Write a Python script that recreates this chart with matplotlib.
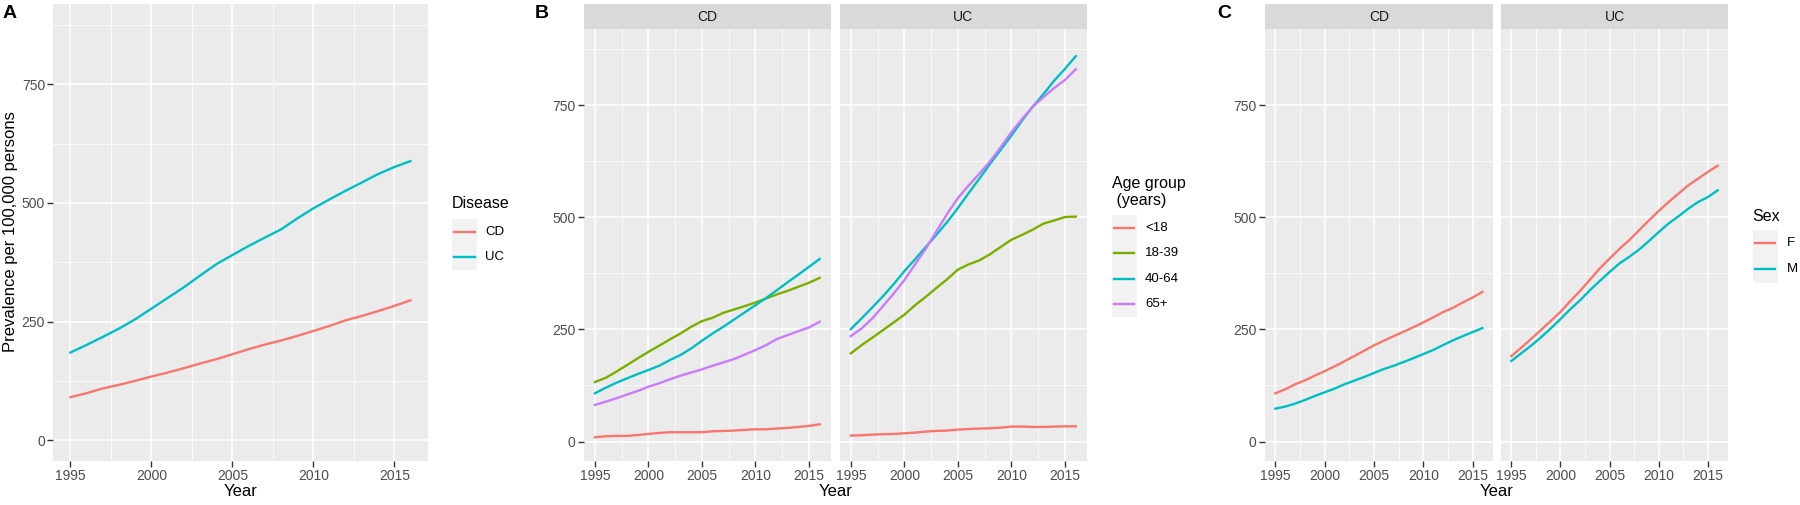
import matplotlib
matplotlib.use("Agg")
import matplotlib.pyplot as plt
from matplotlib.lines import Line2D
from matplotlib.patches import Rectangle

plt.rcParams['font.family'] = ['Liberation Sans', 'DejaVu Sans']

years = list(range(1995, 2017))

# Panel A: prevalence by disease
a_cd = [90.5, 99, 109, 116.5, 125, 134, 142.4, 151.6, 161.4, 170.5, 181, 191.6,
        201.4, 209.8, 219.6, 230, 240.7, 252.6, 261.7, 272, 282.8, 294.7]
a_uc = [184.6, 200.7, 217.5, 235, 254.7, 277, 299.6, 322, 346.6, 370.5, 390, 409,
        426.6, 444, 467, 488.4, 507.3, 525.6, 543, 560.7, 575.4, 588]

# Panel B: prevalence by age group
age_groups = ['<18', '18-39', '40-64', '65+']
b_cd_lt18 = [9.6, 11.9, 12.6, 12.6, 14.8, 17, 19.3, 20.8, 20.8, 20.8, 20.8, 23,
             23.7, 24.5, 26, 27.4, 27.4, 29, 30.4, 32.6, 34.9, 38.6]
b_cd_18_39 = [132.8, 142, 155.8, 170.6, 185.5, 200, 213.6, 227.7, 241, 256, 268.5, 276,
              287, 294.5, 302, 310, 319, 328, 336, 345, 354, 365]
b_cd_40_64 = [107.6, 120, 131, 141, 150.6, 159.5, 169, 181.7, 193, 207.7, 224.8, 241,
              256, 272, 288, 304, 320, 337.5, 355, 372, 389.5, 407]
b_cd_65p = [81.6, 89, 96.4, 105, 112.8, 122.4, 129.8, 138.7, 147, 154, 161, 169,
            176.5, 184, 194, 204, 215, 228.5, 237.4, 246, 254.4, 267]
b_uc_lt18 = [13.4, 14, 15.6, 16.3, 17, 18.5, 20, 22.3, 23.7, 24.5, 26.7, 28,
             29, 29.7, 31, 33.4, 33.4, 32.6, 32.6, 33.4, 34, 34]
b_uc_18_39 = [196.6, 215, 231.4, 248.5, 265.6, 283, 304, 322.7, 342.7, 362, 383.5, 395,
              404, 417.6, 434, 450, 461, 472.5, 486, 493, 500.7, 501.5]
b_uc_40_64 = [250.7, 274.5, 299, 324, 351, 380, 406.5, 434, 461, 489.6, 520.7, 554,
              586, 619, 650.6, 682.5, 716, 747, 775, 805, 831, 859]
b_uc_65p = [235, 252, 274.5, 302, 330, 360, 395, 430, 469, 508, 543, 571,
            597, 624.6, 656.5, 690, 719.5, 747, 768, 788.5, 806, 830]

# Panel C: prevalence by sex
sexes = ['F', 'M']
c_cd_f = [107.6, 116.5, 127.6, 136.5, 147, 157, 167.6, 178.8, 190.6, 202.5, 214.4, 224.8,
          235, 244.8, 255, 265.6, 276.7, 288.6, 298, 310, 321, 333.8]
c_cd_m = [73.4, 78, 84.6, 92.7, 101.6, 109.8, 118, 127.6, 135.7, 144, 152.8, 161.7,
          169, 177.3, 186, 195, 204, 215, 225.5, 235, 244, 253]
c_uc_f = [190.6, 209, 228.5, 248.5, 268.5, 289, 313, 336, 361, 386, 408, 429.5,
          449, 471, 493, 514, 534, 552.6, 571, 586, 601, 615]
c_uc_m = [179.5, 196.6, 213.6, 232, 252, 273, 295, 315, 337.5, 358, 378, 397,
          411.7, 428, 447, 467, 486, 502, 519, 534, 545, 560]

RED, GREEN, CYAN, PURPLE = '#F8766D', '#7CAE00', '#00BFC4', '#C77CFF'

W, H = 1800, 505
fig = plt.figure(figsize=(W / 100, H / 100), dpi=100)
fig.patch.set_facecolor('white')


def rect(l, r, t, b):
    return [l / W, 1 - b / H, (r - l) / W, (b - t) / H]


LW = 1.7
TICK = 10
YLIM = (-43.3, 919)


def style(ax, ylabels=True):
    ax.set_facecolor('#EBEBEB')
    for s in ax.spines.values():
        s.set_visible(False)
    ax.set_xlim(1993.95, 2017.05)
    ax.set_ylim(*YLIM)
    ax.set_xticks([1995, 2000, 2005, 2010, 2015])
    ax.set_xticks([1997.5, 2002.5, 2007.5, 2012.5], minor=True)
    ax.set_yticks([0, 250, 500, 750])
    ax.set_yticks([125, 375, 625, 875], minor=True)
    ax.grid(True, which='major', color='white', lw=1.1)
    ax.grid(True, which='minor', color='white', lw=0.55)
    ax.set_axisbelow(True)
    ax.tick_params(which='major', length=4, width=1.0, color='#333333',
                   labelsize=TICK, labelcolor='#4D4D4D', pad=2)
    ax.tick_params(which='minor', length=0)
    if not ylabels:
        ax.tick_params(axis='y', which='both', left=False, labelleft=False)


def strip(l, r, label):
    sa = fig.add_axes(rect(l, r, 4, 29.3))
    sa.set_facecolor('#D9D9D9')
    sa.set_xticks([])
    sa.set_yticks([])
    for s in sa.spines.values():
        s.set_visible(False)
    sa.text(0.5, 0.5, label, ha='center', va='center', fontsize=TICK, color='#1A1A1A',
            transform=sa.transAxes)


def legend(x, key_top, title_lines, title_y, labels, colors, key_w=25, key_h=25.5, label_x=None):
    for i, t in enumerate(title_lines):
        fig.text(x / W, 1 - (title_y + i * 17) / H, t, ha='left', va='center',
                 fontsize=11.5, color='black')
    n = len(labels)
    fig.patches.append(Rectangle((x / W, 1 - (key_top + n * key_h) / H), key_w / W,
                                 n * key_h / H, transform=fig.transFigure,
                                 facecolor='#F2F2F2', edgecolor='none'))
    for i, (lab, c) in enumerate(zip(labels, colors)):
        yc = key_top + (i + 0.5) * key_h
        fig.lines.append(Line2D([(x + 2.5) / W, (x + key_w - 2.5) / W], [1 - yc / H, 1 - yc / H],
                                transform=fig.transFigure, color=c, lw=LW))
        fig.text((label_x if label_x else x + key_w + 8) / W, 1 - yc / H, lab,
                 ha='left', va='center', fontsize=9.5, color='black')


# ---------- Panel A ----------
axA = fig.add_axes(rect(53.4, 427.5, 4, 460.7))
style(axA)
axA.plot(years, a_cd, color=RED, lw=LW)
axA.plot(years, a_uc, color=CYAN, lw=LW)
fig.text(10.5 / W, 1 - 232 / H, 'Prevalence per 100,000 persons', rotation=90,
         ha='center', va='center', fontsize=12)
fig.text(240.5 / W, 1 - 491.5 / H, 'Year', ha='center', va='center', fontsize=12)
legend(451.5, 219.3, ['Disease'], 203.5, ['CD', 'UC'], [RED, CYAN], key_w=25.5, key_h=25.3,
       label_x=485)
fig.text(3 / W, 1 - 13.5 / H, 'A', ha='left', va='center', fontsize=14, weight='bold')

# ---------- Panel B ----------
b_cd = [b_cd_lt18, b_cd_18_39, b_cd_40_64, b_cd_65p]
b_uc = [b_uc_lt18, b_uc_18_39, b_uc_40_64, b_uc_65p]
age_colors = [RED, GREEN, CYAN, PURPLE]
axB1 = fig.add_axes(rect(583.7, 830.9, 29.3, 461))
style(axB1)
for vals, c in zip(b_cd, age_colors):
    axB1.plot(years, vals, color=c, lw=LW)
strip(583.7, 830.9, 'CD')
axB2 = fig.add_axes(rect(839.6, 1087, 29.3, 461))
style(axB2, ylabels=False)
for vals, c in zip(b_uc, age_colors):
    axB2.plot(years, vals, color=c, lw=LW)
strip(839.6, 1087, 'UC')
fig.text(835.3 / W, 1 - 491.5 / H, 'Year', ha='center', va='center', fontsize=12)
legend(1111.7, 215, ['Age group', ' (years)'], 183.5, age_groups, age_colors,
       key_w=25, key_h=25.4, label_x=1145)
fig.text(534.5 / W, 1 - 13.5 / H, 'B', ha='left', va='center', fontsize=14, weight='bold')

# ---------- Panel C ----------
axC1 = fig.add_axes(rect(1265, 1492.8, 29.3, 461))
style(axC1)
axC1.plot(years, c_cd_f, color=RED, lw=LW)
axC1.plot(years, c_cd_m, color=CYAN, lw=LW)
strip(1265, 1492.8, 'CD')
axC2 = fig.add_axes(rect(1501, 1728, 29.3, 461))
style(axC2, ylabels=False)
axC2.plot(years, c_uc_f, color=RED, lw=LW)
axC2.plot(years, c_uc_m, color=CYAN, lw=LW)
strip(1501, 1728, 'UC')
fig.text(1496.5 / W, 1 - 491.5 / H, 'Year', ha='center', va='center', fontsize=12)
legend(1752.6, 230, ['Sex'], 216.5, sexes, [RED, CYAN], key_w=25.3, key_h=26.3,
       label_x=1787)
fig.text(1217 / W, 1 - 13.5 / H, 'C', ha='left', va='center', fontsize=14, weight='bold')

fig.savefig('out.png', dpi=100, facecolor='white')
